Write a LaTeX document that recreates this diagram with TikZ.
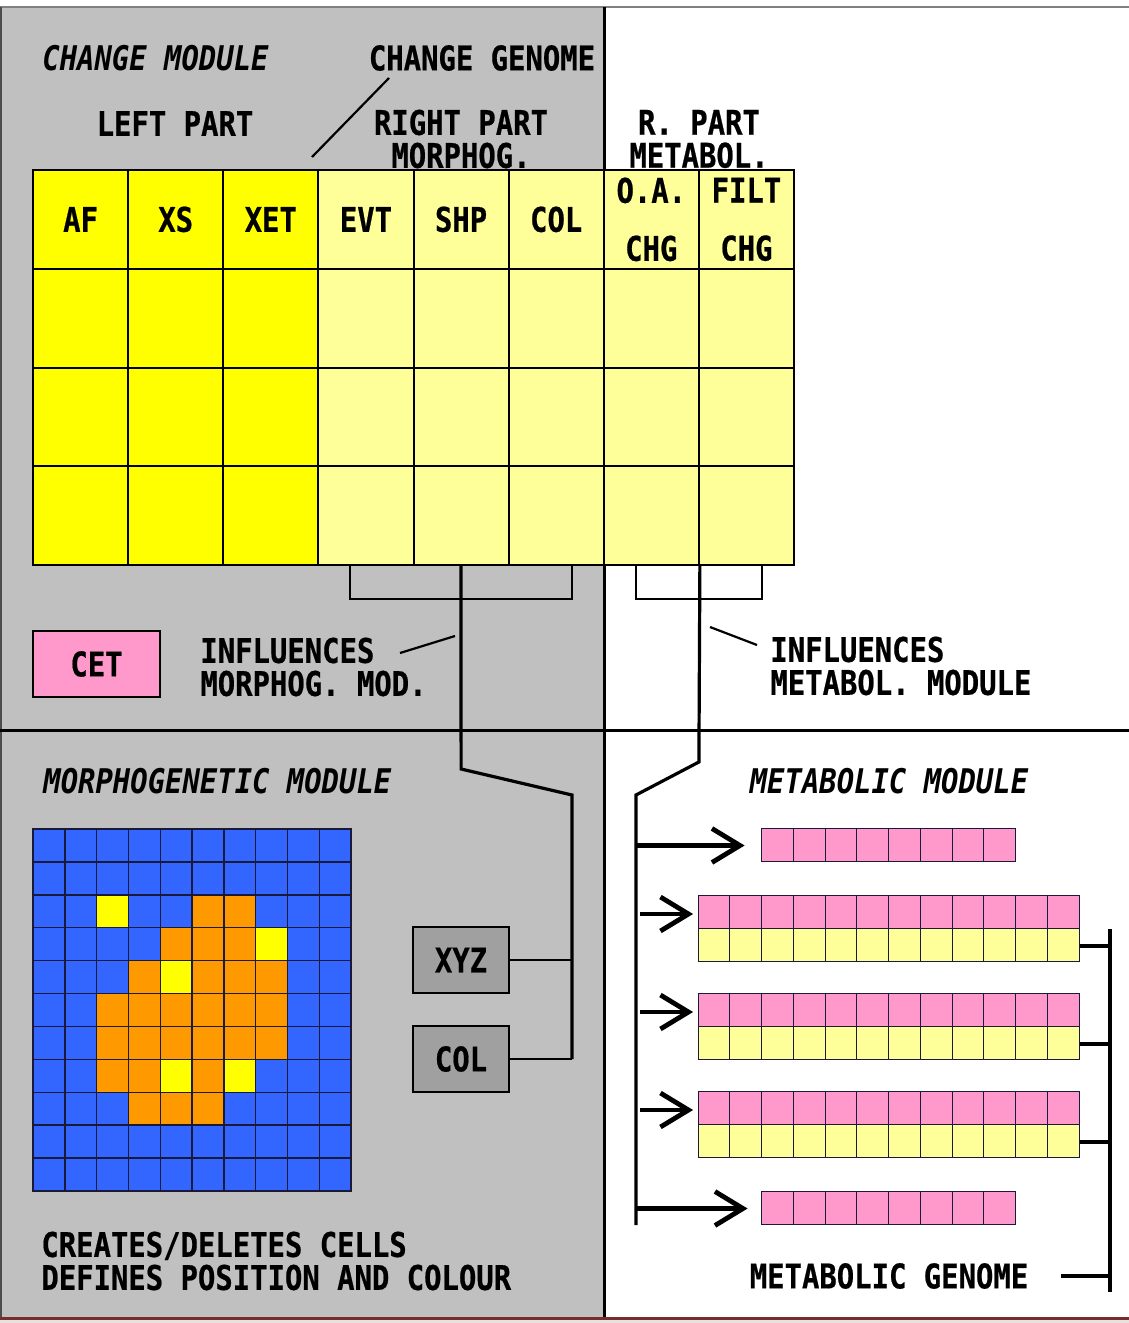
\documentclass[tikz,border=0pt]{standalone}
\usepackage{fontspec}
\setmainfont{DejaVu Sans Mono}[FakeStretch=0.85, BoldFeatures={FakeBold=0.6}]
\usetikzlibrary{arrows.meta, positioning, calc}
\usepackage{xcolor}
\definecolor{panelGray}{RGB}{192,192,192}
\definecolor{geneYellow}{RGB}{255,255,0}
\definecolor{paleYellow}{RGB}{255,255,153}
\definecolor{genePink}{RGB}{255,153,204}
\definecolor{cellBlue}{RGB}{51,102,255}
\definecolor{cellOrange}{RGB}{255,153,0}
\definecolor{boxGray}{RGB}{160,160,160}
\definecolor{cellEdge}{RGB}{25,25,60}
\definecolor{edgeRed}{RGB}{120,45,45}
\newcommand{\lbl}{\fontsize{17}{16.5}\selectfont\bfseries}

\begin{document}
\begin{tikzpicture}[x=0.5pt, y=-0.5pt,
    txt/.style={inner sep=0pt, font=\lbl, align=center},
    modtitle/.style={inner sep=0pt, font=\lbl\itshape},
    gcell/.style={draw, line width=1pt, minimum width=47.56pt, minimum height=49.375pt, inner sep=0pt, font=\lbl, align=center},
    box/.style={draw, line width=1.2pt, inner sep=0pt, minimum height=33pt, font=\lbl},
    divider/.style={line width=1.5pt},
    conn/.style={line width=1.6pt},
    wire/.style={line width=1pt},
    bracket/.style={line width=1pt},
    lead/.style={line width=1.1pt},
    tick/.style={line width=2pt},
    barb/.style={-{Straight Barb[length=14pt, width=17pt]}, line width=2.4pt},
    genecell/.style={draw=cellEdge, line width=0.6pt},
    mcell/.style={draw=cellEdge, line width=0.7pt},
    shortrow/.style={minimum width=127pt, minimum height=16.5pt, inner sep=0pt},
    longrow/.style={minimum width=190.5pt, minimum height=16.5pt, inner sep=0pt}
]
\useasboundingbox (0,0) rectangle (1129,1323);
\fill[white] (0,0) rectangle (1129,1323);

% panels
\fill[panelGray] (0,7) rectangle (604,1317);
\fill[edgeRed!15] (0,1317) rectangle (1129,1323);
\draw[gray, line width=0.6pt] (0,7) -- (1129,7);
\draw[black!70, line width=1pt] (1,7) -- (1,1317);
\draw[edgeRed, line width=1.5pt] (0,1318) -- (1129,1318);
\draw[divider] (604,7) -- (604,1317);
\draw[divider] (0,730) -- (1129,730);

% change module
\node[modtitle, anchor=west] (chmod) at (42,58) {CHANGE MODULE};
\node[txt] (chgen) at (482,58) {CHANGE GENOME};
\node[txt] (lpart) at (175,123.5) {LEFT PART};
\node[txt] (rpart) at (461,139) {RIGHT PART\\MORPHOG.};
\node[txt] (rmet) at (699,139) {R. PART\\METABOL.};
\coordinate (gl1) at (312,157);
\coordinate (gl2) at (389,78);
\draw[lead] (gl1) -- (gl2);

\foreach \lab/\c [count=\i] in {AF/geneYellow, XS/geneYellow, XET/geneYellow, EVT/paleYellow, SHP/paleYellow, COL/paleYellow, {O.A.\\[12.5pt]CHG}/paleYellow, {FILT\\[12.5pt]CHG}/paleYellow} {
    \node[gcell, fill=\c] (h\i) at ({33+(\i-0.5)*95.125}, 219.4) {\lab};
    \foreach \j in {1,2,3}
        \node[gcell, fill=\c] (c\i-\j) at ({33+(\i-0.5)*95.125}, {219.4+\j*98.75}) {};
}

\draw[bracket] ([xshift=-7.8pt]c4-3.south) -- ++(0,33) -| ([xshift=7.8pt]c6-3.south);
\draw[bracket] ([xshift=-7.8pt]c7-3.south) -- ++(0,33) -| ([xshift=7.8pt]c8-3.south);

\node[box, fill=genePink, minimum width=63.5pt] (cet) at (96.5,664) {CET};
\node[txt, align=left, anchor=west] (infm) at (200,667) {INFLUENCES\\MORPHOG. MOD.};
\node[txt, align=left, anchor=west] (infb) at (770,666) {INFLUENCES\\METABOL. MODULE};
\coordinate (ml1) at (400,653);
\coordinate (ml2) at (455,636);
\coordinate (bl1) at (710,627);
\coordinate (bl2) at (757,645);
\draw[lead] (ml1) -- (ml2);
\draw[lead] (bl1) -- (bl2);

% morphogenetic module
\node[modtitle, anchor=west] (mmod) at (43,781) {MORPHOGENETIC MODULE};
\foreach \r in {0,...,10}
    \foreach \c in {0,...,9}
        \draw[mcell, fill=cellBlue] ({33+\c*31.8},{829+\r*32.9}) rectangle ++(31.8,32.9);
\foreach \c/\r in {5/2,6/2, 4/3,5/3,6/3, 3/4,5/4,6/4,7/4, 2/5,3/5,4/5,5/5,6/5,7/5, 2/6,3/6,4/6,5/6,6/6,7/6, 2/7,3/7,5/7, 3/8,4/8,5/8}
    \draw[mcell, fill=cellOrange] ({33+\c*31.8},{829+\r*32.9}) rectangle ++(31.8,32.9);
\foreach \c/\r in {2/2, 7/3, 4/4, 4/7, 6/7}
    \draw[mcell, fill=geneYellow] ({33+\c*31.8},{829+\r*32.9}) rectangle ++(31.8,32.9);

\node[box, fill=boxGray, minimum width=48pt] (xyz) at (461,960) {XYZ};
\node[box, fill=boxGray, minimum width=48pt] (colbox) at (461,1059) {COL};
\node[txt, align=left, anchor=west] (cdesc) at (41,1261) {CREATES/DELETES CELLS\\DEFINES POSITION AND COLOUR};

\coordinate (lk1) at (461.1,769);
\coordinate (lk2) at (572,795);
\draw[conn] (c5-3.south) -- (lk1) -- (lk2) -- (lk2 |- colbox.east);
\draw[wire] (xyz.east) -- (xyz.east -| lk2);
\draw[wire] (colbox.east) -- (colbox.east -| lk2);

% metabolic module
\node[modtitle] (metmod) at (889,781) {METABOLIC MODULE};

\node[shortrow] (g1) at (889,845.5) {};
\node[shortrow] (g5) at (889,1208.5) {};
\foreach \k in {0,...,7} {
    \draw[genecell, fill=genePink] ($(g1.north west)+(\k*31.75,0)$) rectangle ++(31.75,33);
    \draw[genecell, fill=genePink] ($(g5.north west)+(\k*31.75,0)$) rectangle ++(31.75,33);
}
\foreach \r/\yy in {2/912.5, 3/1010.5, 4/1108.5} {
    \node[longrow] (p\r) at (889,\yy) {};
    \node[longrow] (y\r) at (889,{\yy+33}) {};
    \foreach \k in {0,...,11} {
        \draw[genecell, fill=genePink] ($(p\r.north west)+(\k*31.75,0)$) rectangle ++(31.75,33);
        \draw[genecell, fill=paleYellow] ($(y\r.north west)+(\k*31.75,0)$) rectangle ++(31.75,33);
    }
}

\coordinate (rk1) at (698.9,762);
\coordinate (rk2) at (636,795);
\coordinate (rk3) at (636,1225);
\draw[conn] (c7-3.south east) -- (rk1) -- (rk2) -- (rk3);

\draw[barb] (rk2 |- g1.west) -- ([xshift=-8.5pt]g1.west);
\draw[barb] (rk2 |- g5.west) -- ([xshift=-7pt]g5.west);
\foreach \r in {2,3,4}
    \draw[barb] ($(rk2 |- p\r.west)+(4,1.5)$) -- ([xshift=-2.5pt, yshift=-0.75pt]p\r.west);

\node[txt] (mgen) at (889,1276) {METABOLIC GENOME};
\coordinate (rb1) at (1110,929);
\coordinate (rb2) at (1110,1292);
\draw[conn] (rb1) -- (rb2);
\foreach \r in {2,3,4}
    \draw[tick] (y\r.east) -- (y\r.east -| rb1);
\draw[tick] ([xshift=16pt]mgen.east) -- (mgen.east -| rb1);

\end{tikzpicture}
\end{document}
